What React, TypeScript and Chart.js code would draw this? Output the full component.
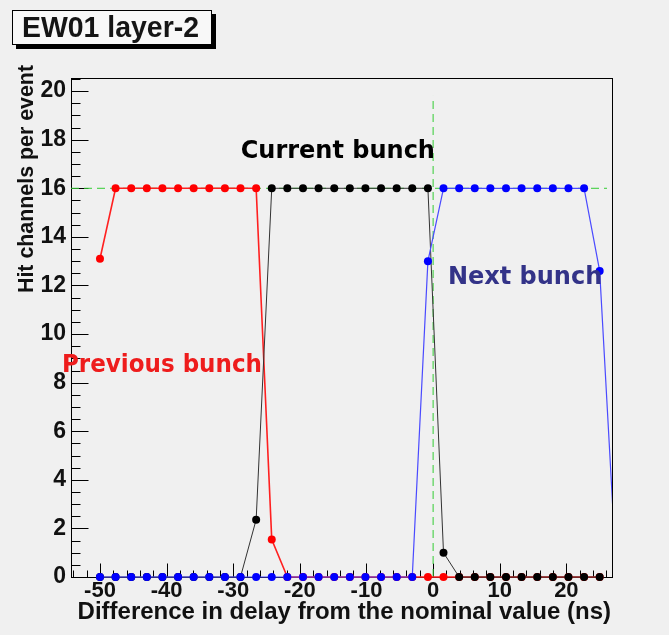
import React, { useEffect, useRef } from "react";
import { Chart, registerables } from "chart.js";

Chart.register(...registerables);

// ---- data ----
const delays = [
  -50, -47.66, -45.31, -42.97, -40.63, -38.28, -35.94, -33.59, -31.25, -28.91,
  -26.56, -24.22, -21.88, -19.53, -17.19, -14.84, -12.5, -10.16, -7.81, -5.47,
  -3.13, -0.78, 1.56, 3.91, 6.25, 8.59, 10.94, 13.28, 15.63, 17.97, 20.31, 22.66, 25,
];
const nextBunchExtraDelay = 27.34;

const previousBunch = [
  13.1, 16, 16, 16, 16, 16, 16, 16, 16, 16,
  16, 1.54, 0, 0, 0, 0, 0, 0, 0, 0,
  0, 0, 0, 0, 0, 0, 0, 0, 0, 0, 0, 0, 0,
];
const currentBunch = [
  0, 0, 0, 0, 0, 0, 0, 0, 0, 0,
  2.36, 16, 16, 16, 16, 16, 16, 16, 16, 16,
  16, 16, 1.0, 0, 0, 0, 0, 0, 0, 0, 0, 0, 0,
];
const nextBunch = [
  0, 0, 0, 0, 0, 0, 0, 0, 0, 0,
  0, 0, 0, 0, 0, 0, 0, 0, 0, 0,
  0, 13.0, 16, 16, 16, 16, 16, 16, 16, 16, 16, 16, 12.6, 1.0,
];

const xTickValues = [-50, -40, -30, -20, -10, 0, 10, 20];
const yTickValues = [0, 2, 4, 6, 8, 10, 12, 14, 16, 18, 20];

const xRange = [-54.35, 26.85];
const yRange = [0, 20.54];

// green dashed guides
const guideLevel = 16;
const guideLevelSpan = [-54.35, 26.1];
const guideDelay = 0;
const guideDelaySpan = [0, 19.8];

const titleText = "EW01 layer-2";
const xTitle = "Difference in delay from the nominal value (ns)";
const yTitle = "Hit channels per event";

const annotations = [
  { text: "Current bunch", x: -14.3, y: 17.5, color: "#000000", maxW: 197 },
  { text: "Next bunch", x: 13.8, y: 12.3, color: "#333388", maxW: 160 },
  { text: "Previous bunch", x: -40.7, y: 8.7, color: "#ee1c1c", maxW: 200 },
];

const SANS = '"Liberation Sans", Arial, Helvetica, sans-serif';
const COMIC = '"DejaVu Sans", "Noto Sans", sans-serif';

const pts = (xs: number[], ys: number[]) => ys.map((v, i) => ({ x: xs[i], y: v }));

const rootPlugin = {
  id: "rootDecor",
  beforeDraw(chart: any) {
    const ctx = chart.ctx;
    ctx.save();
    ctx.fillStyle = "#f0f0f0";
    ctx.fillRect(0, 0, chart.width, chart.height);
    ctx.restore();
  },
  beforeDatasetsDraw(chart: any) {
    const { ctx, chartArea: a } = chart;
    const xs = chart.scales.x;
    const ys = chart.scales.y;
    ctx.save();
    ctx.strokeStyle = "#000";
    ctx.lineWidth = 1;
    const L = Math.round(a.left) + 0.5;
    const R = Math.round(a.right) + 0.5;
    const T = Math.round(a.top) + 0.5;
    const B = Math.round(a.bottom) + 0.5;
    ctx.strokeRect(L, T, R - L, B - T);
    ctx.beginPath();
    // y ticks: major every 2, minor every 0.5
    for (let k = 0; k * 0.5 <= ys.max + 1e-9; k++) {
      const v = k * 0.5;
      const py = Math.round(ys.getPixelForValue(v)) + 0.5;
      const len = k % 4 === 0 ? 17 : 9;
      ctx.moveTo(L, py);
      ctx.lineTo(L + len, py);
    }
    // x ticks: major every 10, minor every 2
    for (let v = Math.ceil(xs.min / 2) * 2; v <= xs.max; v += 2) {
      const px = Math.round(xs.getPixelForValue(v)) + 0.5;
      const len = v % 10 === 0 ? 14 : 7;
      ctx.moveTo(px, B);
      ctx.lineTo(px, B - len);
    }
    ctx.stroke();
    ctx.restore();
  },
  afterDraw(chart: any) {
    const { ctx, chartArea: a } = chart;
    const xs = chart.scales.x;
    const ys = chart.scales.y;
    ctx.save();
    // title box with shadow
    ctx.fillStyle = "#000";
    ctx.fillRect(16, 14, 200, 35);
    ctx.fillStyle = "#f8f8f8";
    ctx.fillRect(12, 10, 200, 35);
    ctx.strokeStyle = "#000";
    ctx.lineWidth = 1;
    ctx.strokeRect(12.5, 10.5, 199, 34);
    ctx.fillStyle = "#151515";
    ctx.font = `bold 29px ${SANS}`;
    ctx.textAlign = "left";
    ctx.textBaseline = "alphabetic";
    ctx.fillText(titleText, 22, 37, 177);

    // x axis title (right aligned to frame end)
    ctx.fillStyle = "#111";
    ctx.font = `bold 24px ${SANS}`;
    ctx.textAlign = "right";
    ctx.fillText(xTitle, a.right - 1, 619, 543);

    // y axis title (rotated, aligned to top end)
    ctx.save();
    ctx.translate(33, a.top - 13);
    ctx.rotate(-Math.PI / 2);
    ctx.font = `bold 22px ${SANS}`;
    ctx.textAlign = "right";
    ctx.fillText(yTitle, 0, 0, 228);
    ctx.restore();

    // annotations
    ctx.font = `bold 24px ${COMIC}`;
    ctx.textAlign = "center";
    ctx.textBaseline = "middle";
    for (const an of annotations) {
      ctx.fillStyle = an.color;
      ctx.fillText(an.text, xs.getPixelForValue(an.x), ys.getPixelForValue(an.y), an.maxW);
    }
    ctx.restore();
  },
};

export default function App() {
  const ref = useRef<HTMLCanvasElement | null>(null);
  useEffect(() => {
    if (!ref.current) return;
    const clip = { left: 12, top: 12, right: 0, bottom: 12 };
    const tickFont = { family: SANS, size: 22, weight: "bold" as const };
    const chart = new Chart(ref.current, {
      type: "line",
      data: {
        datasets: [
          {
            label: "guide16",
            data: [
              { x: guideLevelSpan[0], y: guideLevel },
              { x: guideLevelSpan[1], y: guideLevel },
            ],
            borderColor: "#33cc33",
            borderWidth: 1,
            borderDash: [8, 5],
            pointRadius: 0,
            order: 4,
            clip: 0 as any,
          },
          {
            label: "guide0",
            data: [
              { x: guideDelay, y: guideDelaySpan[0] },
              { x: guideDelay, y: guideDelaySpan[1] },
            ],
            borderColor: "#33cc33",
            borderWidth: 1,
            borderDash: [8, 5],
            pointRadius: 0,
            order: 4,
            clip: 0 as any,
          },
          {
            label: "Previous bunch",
            data: pts(delays, previousBunch),
            borderColor: "#ff2020",
            borderWidth: 1.6,
            pointRadius: 4,
            pointBorderWidth: 0,
            pointBackgroundColor: "#ff0000",
            order: 2,
            clip: clip as any,
          },
          {
            label: "Current bunch",
            data: pts(delays, currentBunch),
            borderColor: "#333333",
            borderWidth: 1,
            pointRadius: 4,
            pointBorderWidth: 0,
            pointBackgroundColor: "#000000",
            order: 1,
            clip: clip as any,
          },
          {
            label: "Next bunch",
            data: pts([...delays, nextBunchExtraDelay], nextBunch),
            borderColor: "#4a4aff",
            borderWidth: 1.2,
            pointRadius: (c: any) => (c.dataIndex >= delays.length ? 0 : 4),
            pointBorderWidth: 0,
            pointBackgroundColor: "#0000ff",
            order: 0,
            clip: clip as any,
          },
        ],
      },
      options: {
        responsive: false,
        animation: false,
        events: [],
        layout: { padding: { top: 78, right: 57, left: 0, bottom: 0 } },
        elements: { line: { tension: 0 } },
        plugins: {
          legend: { display: false },
          tooltip: { enabled: false },
          title: { display: false },
        },
        scales: {
          x: {
            type: "linear",
            min: xRange[0],
            max: xRange[1],
            grid: { display: false, drawTicks: false },
            border: { display: false },
            afterBuildTicks: (s: any) => {
              s.ticks = xTickValues.map((v) => ({ value: v }));
            },
            afterFit: (s: any) => {
              s.height = 58;
            },
            ticks: {
              font: tickFont,
              color: "#111",
              padding: 1,
              maxRotation: 0,
              autoSkip: false,
            },
          },
          y: {
            type: "linear",
            min: yRange[0],
            max: yRange[1],
            grid: { display: false, drawTicks: false },
            border: { display: false },
            afterBuildTicks: (s: any) => {
              s.ticks = yTickValues.map((v) => ({ value: v }));
            },
            afterFit: (s: any) => {
              s.width = 71;
            },
            ticks: {
              font: { ...tickFont, size: 23 },
              color: "#111",
              padding: 5,
              autoSkip: false,
            },
          },
        },
      },
      plugins: [rootPlugin],
    });
    return () => chart.destroy();
  }, []);
  return (
    <div style={{ position: "absolute", left: 0, top: 0, width: 669, height: 635 }}>
      <canvas ref={ref} width={669} height={635} style={{ display: "block" }} />
    </div>
  );
}
